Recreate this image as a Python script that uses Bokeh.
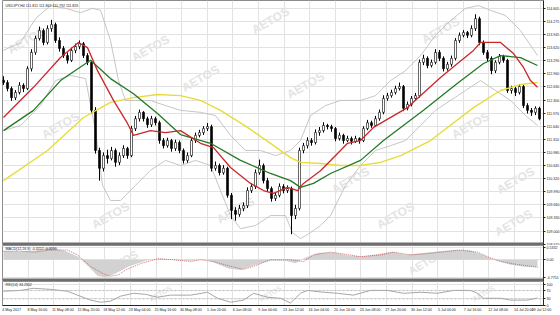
from bokeh.plotting import figure
from bokeh.layouts import column
from bokeh.models import Range1d, FixedTicker, BoxAnnotation, Label, Span, PrintfTickFormatter
from bokeh.embed import file_html
from bokeh.resources import INLINE
from bokeh.core.properties import value

# ---------------- data (USDJPY, H4) ----------------
opens = [112.80, 112.74, 112.59, 112.36, 112.49, 112.67, 112.59, 113.09, 113.50, 113.85,
         114.05, 113.75, 114.10, 114.20, 113.80, 113.60, 113.42, 113.30, 113.55, 113.65,
         113.72, 113.42, 113.25, 112.04, 111.03, 110.58, 110.90, 110.83, 111.03, 110.73,
         110.90, 111.08, 110.90, 111.58, 111.83, 111.99, 111.83, 111.68, 111.83, 111.73,
         111.28, 111.15, 111.28, 111.08, 111.23, 111.03, 110.78, 110.90, 111.28, 111.41,
         111.48, 111.58, 111.63, 110.58, 110.65, 110.47, 110.58, 109.90, 109.52, 109.42,
         109.57, 109.64, 110.02, 110.12, 110.47, 110.65, 110.27, 110.07, 109.82, 109.90,
         110.12, 110.02, 110.07, 109.39, 109.57, 111.03, 111.15, 111.28, 111.23, 111.48,
         111.53, 111.66, 111.63, 111.58, 111.33, 111.41, 111.28, 111.33, 111.26, 111.33,
         111.28, 111.58, 111.73, 111.66, 111.83, 111.99, 112.34, 112.41, 112.49, 112.59,
         112.64, 112.09, 112.19, 112.34, 112.41, 113.25, 113.35, 113.17, 113.25, 113.50,
         113.35, 113.09, 113.20, 113.35, 113.80, 113.93, 114.00, 113.93, 114.10, 114.35,
         113.75, 113.50, 113.35, 113.04, 113.25, 113.40, 113.30, 112.54, 112.59, 112.49,
         112.64, 112.16, 112.04, 111.99, 112.09]
highs = [112.90, 112.80, 112.64, 112.55, 112.75, 112.72, 113.15, 113.58, 113.92, 114.15,
         114.10, 114.18, 114.32, 114.25, 113.88, 113.66, 113.50, 113.62, 113.72, 113.80,
         113.76, 113.48, 113.30, 112.12, 111.10, 110.98, 111.05, 111.12, 111.08, 110.98,
         111.16, 111.12, 111.65, 111.90, 112.06, 112.02, 111.88, 111.90, 111.88, 111.78,
         111.34, 111.35, 111.32, 111.30, 111.28, 111.08, 110.98, 111.34, 111.48, 111.55,
         111.64, 111.72, 111.68, 110.75, 110.70, 110.66, 110.62, 109.96, 109.60, 109.66,
         109.72, 110.10, 110.20, 110.55, 110.80, 110.70, 110.34, 110.12, 109.98, 110.20,
         110.18, 110.15, 110.12, 109.66, 111.10, 111.22, 111.36, 111.34, 111.56, 111.62,
         111.74, 111.70, 111.68, 111.62, 111.48, 111.45, 111.40, 111.38, 111.40, 111.36,
         111.64, 111.80, 111.78, 111.90, 112.06, 112.42, 112.48, 112.56, 112.66, 112.74,
         112.68, 112.26, 112.40, 112.48, 113.32, 113.44, 113.40, 113.32, 113.58, 113.56,
         113.40, 113.26, 113.42, 113.86, 114.00, 114.06, 114.04, 114.18, 114.46, 114.40,
         113.80, 113.56, 113.40, 113.30, 113.46, 113.44, 113.34, 112.66, 112.64, 112.70,
         112.68, 112.22, 112.10, 112.14, 112.13]
lows = [112.68, 112.52, 112.28, 112.30, 112.44, 112.50, 112.55, 113.02, 113.44, 113.80,
        113.68, 113.70, 114.02, 113.74, 113.52, 113.36, 113.22, 113.26, 113.48, 113.58,
        113.36, 113.18, 111.95, 110.95, 110.27, 110.50, 110.70, 110.78, 110.62, 110.66,
        110.84, 110.82, 110.86, 111.52, 111.76, 111.76, 111.60, 111.62, 111.66, 111.20,
        111.08, 111.10, 111.00, 111.02, 110.96, 110.70, 110.72, 110.86, 111.22, 111.36,
        111.42, 111.52, 110.50, 110.52, 110.40, 110.42, 109.84, 109.30, 109.26, 109.36,
        109.50, 109.58, 109.96, 110.06, 110.42, 110.20, 110.00, 109.74, 109.76, 109.85,
        109.95, 109.96, 108.92, 109.30, 109.52, 110.96, 111.08, 111.15, 111.18, 111.40,
        111.48, 111.56, 111.50, 111.26, 111.28, 111.20, 111.24, 111.18, 111.22, 111.20,
        111.24, 111.54, 111.60, 111.62, 111.78, 111.94, 112.28, 112.36, 112.44, 112.54,
        112.02, 112.04, 112.14, 112.28, 112.36, 113.18, 113.10, 113.12, 113.20, 113.28,
        113.02, 113.04, 113.14, 113.30, 113.74, 113.88, 113.86, 113.88, 114.04, 113.68,
        113.44, 113.28, 112.95, 112.98, 113.20, 113.24, 112.48, 112.46, 112.40, 112.44,
        112.10, 111.96, 111.90, 111.92, 111.79]
closes = [112.74, 112.59, 112.36, 112.49, 112.67, 112.59, 113.09, 113.50, 113.85, 114.05,
          113.75, 114.10, 114.20, 113.80, 113.60, 113.42, 113.30, 113.55, 113.65, 113.72,
          113.42, 113.25, 112.04, 111.03, 110.58, 110.90, 110.83, 111.03, 110.73, 110.90,
          111.08, 110.90, 111.58, 111.83, 111.99, 111.83, 111.68, 111.83, 111.73, 111.28,
          111.15, 111.28, 111.08, 111.23, 111.03, 110.78, 110.90, 111.28, 111.41, 111.48,
          111.58, 111.63, 110.58, 110.65, 110.47, 110.58, 109.90, 109.52, 109.42, 109.57,
          109.64, 110.02, 110.12, 110.47, 110.65, 110.27, 110.07, 109.82, 109.90, 110.12,
          110.02, 110.07, 109.39, 109.57, 111.03, 111.15, 111.28, 111.23, 111.48, 111.53,
          111.66, 111.63, 111.58, 111.33, 111.41, 111.28, 111.33, 111.26, 111.33, 111.28,
          111.58, 111.73, 111.66, 111.83, 111.99, 112.34, 112.41, 112.49, 112.59, 112.64,
          112.09, 112.19, 112.34, 112.41, 113.25, 113.35, 113.17, 113.25, 113.50, 113.35,
          113.09, 113.20, 113.35, 113.80, 113.93, 114.00, 113.93, 114.10, 114.35, 113.75,
          113.50, 113.35, 113.04, 113.25, 113.40, 113.30, 112.54, 112.59, 112.49, 112.64,
          112.16, 112.04, 111.99, 112.09, 111.826]
bars = list(range(len(closes)))

# moving averages (bar position, price)
red_x = [0, 7.5, 14.25, 18.75, 21, 23.5, 27.5, 31, 32.5, 36.75, 40.5, 44.25, 49.25, 52.5, 56.75,
         61.75, 65, 67.5, 71, 73.5, 75, 79.25, 84.25, 86, 89.25, 92.5, 101, 109.25, 113.5, 117.5,
         119.25, 124.25, 127.5, 130, 131.75, 133.5]
red_y = [111.86, 112.62, 113.37, 113.75, 113.62, 113.04, 112.29, 111.71, 111.41, 111.53, 111.48,
         111.53, 111.21, 111.10, 110.60, 110.20, 110.02, 109.95, 110.10, 110.02, 110.20, 110.52,
         111.03, 111.21, 111.28, 111.61, 112.11, 112.87, 113.22, 113.55, 113.75, 113.75, 113.47,
         113.12, 112.79, 112.62]
green_x = [0, 7.5, 14.25, 21.75, 26.75, 32.5, 38.5, 44.25, 51.75, 59.25, 66.75, 71.75, 74.25, 77.5,
           81.75, 89.25, 95, 105, 113.5, 120, 124.25, 129.25, 133.5]
green_y = [111.53, 112.04, 112.79, 113.30, 112.84, 112.46, 111.96, 111.43, 111.21, 110.78, 110.45,
           110.27, 110.10, 110.20, 110.45, 110.78, 111.28, 112.04, 112.72, 113.22, 113.42, 113.37,
           113.17]
yellow_x = [0, 11, 20, 26.75, 32.5, 38.5, 44.25, 49.25, 54.25, 61, 66.75, 71.75, 74.25, 79.25,
            84.25, 89.25, 94.25, 99.25, 106.75, 117.5, 124.25, 129.25, 133.5]
yellow_y = [110.27, 111.03, 111.86, 112.24, 112.36, 112.44, 112.41, 112.29, 112.04, 111.61, 111.21,
            110.85, 110.73, 110.70, 110.65, 110.65, 110.73, 110.90, 111.28, 112.11, 112.54, 112.69,
            112.74]
# Bollinger bands
bb_up_x = [0, 4.25, 8, 11.75, 15.5, 19.25, 22.25, 24.25, 26.75, 28.75, 30.5, 33, 36.75, 40.5, 44.25,
           49.25, 53, 56.75, 60.5, 64.25, 68, 71.75, 74.25, 76.75, 80.5, 84.25, 89.25, 93, 96.75,
           100.5, 104.25, 108, 111.75, 115.5, 118.75, 121.75, 125.5, 129.25, 133.5]
bb_up_y = [113.55, 113.75, 114.35, 114.68, 114.61, 114.50, 114.61, 114.56, 113.80, 112.79, 112.29,
           112.29, 112.29, 112.16, 112.04, 111.99, 111.91, 111.41, 111.03, 111.03, 110.90, 111.03,
           111.28, 111.91, 112.16, 112.29, 112.29, 112.41, 112.79, 113.04, 113.42, 113.93, 114.30,
           114.61, 114.68, 114.56, 114.43, 114.05, 113.42]
bb_lo_x = [0, 4.25, 9.25, 13, 16.75, 20.5, 23, 24.75, 26.75, 29.25, 33, 36.75, 40.5, 44.25, 48,
           51.75, 54.25, 56.75, 59.25, 63, 66.75, 70.5, 72.25, 74.25, 76.75, 79.25, 81.75, 85.5,
           89.25, 93, 96.75, 100.5, 104.25, 108, 111.75, 115.5, 119.25, 123, 126.75, 130.5, 133.5]
bb_lo_y = [111.53, 111.66, 112.16, 112.79, 112.92, 112.84, 111.53, 110.15, 109.77, 109.77, 110.15,
           110.53, 110.78, 110.65, 110.78, 110.65, 110.02, 109.39, 109.06, 109.14, 109.39, 109.39,
           108.96, 108.81, 108.96, 109.14, 109.39, 110.15, 110.65, 111.03, 111.15, 111.28, 111.66,
           112.04, 112.29, 112.54, 112.79, 112.54, 112.29, 111.91, 111.66]

# MACD(12,26,9)
macd_x = [0, 4.25, 8, 11.75, 15.5, 18.75, 21.25, 23.5, 25.5, 28, 31.25, 35.5, 39.25, 43, 46.75,
          50.5, 53, 56.25, 59.25, 63, 66.75, 70.5, 73, 75.5, 78.75, 82.5, 86.25, 89.75, 93.75,
          97.25, 100.5, 104.25, 108.5, 113, 116.75, 119.75, 123, 126.75, 130.5, 133.5]
macd_main = [0.38, 0.36, 0.40, 0.5332, 0.38, 0.12, -0.30, -0.70, -0.7751, -0.60, -0.30, -0.05, 0.05,
             -0.02, -0.05, 0.02, -0.15, -0.38, -0.45, -0.22, -0.05, -0.05, -0.15, 0.10, 0.30, 0.32,
             0.18, 0.15, 0.25, 0.35, 0.22, 0.28, 0.36, 0.44, 0.40, 0.22, -0.02, -0.22, -0.31, -0.32]
sig_x = [0, 4.25, 7.5, 11.75, 16, 18.5, 21.75, 25, 26.75, 28.75, 30.5, 34.25, 38.5, 42.5, 46.75,
         49.25, 52.5, 56.75, 60, 62.5, 66.75, 71.75, 75, 77.5, 81.75, 85, 89.25, 94.25, 97.5,
         101.75, 105, 109.25, 114.25, 118.5, 121, 124.25, 128.5, 133.5]
sig_y = [0.37, 0.37, 0.33, 0.42, 0.42, 0.21, -0.29, -0.62, -0.72, -0.66, -0.45, -0.17, 0.04, 0.0,
         -0.08, 0.0, -0.08, -0.29, -0.42, -0.29, 0.0, 0.0, -0.08, 0.21, 0.33, 0.25, 0.13, 0.21,
         0.33, 0.21, 0.25, 0.33, 0.42, 0.33, 0.13, -0.08, -0.21, -0.33]

# RSI(14)
rsi_x = [0, 4.25, 7.5, 11.75, 16, 18.5, 21.75, 24.25, 26.75, 29.25, 32.5, 35.5, 38.5, 41.75, 46.75,
         51, 53.5, 56.75, 60, 62.5, 66, 69.25, 71.75, 74.25, 76, 80, 83.5, 87.5, 91.75, 96, 100,
         104.25, 108.5, 112.5, 116.75, 118.5, 120, 124.25, 126.75, 131, 133.5]
rsi_y = [67, 71, 81, 76, 67, 48, 24, 14, 19, 43, 57, 52, 38, 48, 48, 62, 33, 14, 24, 57, 38, 33, 10,
         57, 71, 62, 57, 48, 71, 71, 57, 62, 57, 71, 71, 57, 33, 33, 24, 24, 34.23]

price_ticks = [114.605, 114.275, 113.945, 113.620, 113.290, 112.960, 112.630, 112.300, 111.970,
               111.640, 111.310, 110.980, 110.645, 110.320, 109.990, 109.660, 109.330, 109.000, 108.670]
macd_ticks = [0.5332, 0.0, -0.7751]
macd_tick_labels = ["0.5332", "0.00", "-0.7751"]
rsi_ticks = [100, 70, 30, 0]
grid_x = [-0.25, 6.15, 12.55, 18.95, 25.35, 31.75, 38.15, 44.55, 50.95, 57.35, 63.75, 70.15, 76.55,
          82.95, 89.35, 95.75, 102.15, 108.55, 114.95, 121.35, 127.75, 134.15]
time_ticks = [2.05, 8.45, 14.85, 21.25, 27.65, 34.05, 40.45, 46.85, 53.25, 59.65, 66.05, 72.45,
              78.85, 85.25, 91.65, 98.05, 104.45, 110.85, 117.25, 123.65, 130.05, 134.5]
time_labels = ["4 May 2017", "8 May 16:00", "11 May 08:00", "15 May 20:00", "18 May 12:00",
               "23 May 04:00", "25 May 16:00", "30 May 08:00", "1 Jun 20:00", "6 Jun 08:00",
               "9 Jun 00:00", "13 Jun 12:00", "16 Jun 04:00", "20 Jun 16:00", "23 Jun 08:00",
               "27 Jun 20:00", "30 Jun 12:00", "5 Jul 04:00", "7 Jul 16:00", "12 Jul 08:00",
               "14 Jul 20:00", "19 Jul 12:00"]

# watermark placement (decoration), kept fully inside each panel
wm_x = [66.75, 109.25, 36.75, 75.5, 49.25, 5.75, 14.25, 116.75, 128.0, 86.75, 26.75, 58.0, 98.0, 127.5]
wm_y = [114.30, 114.05, 113.60, 112.67, 112.84, 113.80, 111.66, 111.66, 110.27, 110.27, 109.39,
        109.52, 109.39, 109.20]
wm_macd_x = [29.25, 105.5]
wm_macd_y = [-0.12, -0.12]
wm_rsi_x = [39.25, 66.75, 120.0]
wm_rsi_y = [56, 56, 56]

FONT = "Liberation Sans"
SMALL = "3.6px"
GRID = "#e2e2e2"
WM = "#e4e4e4"


def style(fig):
    fig.outline_line_color = "#8c8c8c"
    fig.outline_line_width = 1
    fig.xgrid.ticker = FixedTicker(ticks=grid_x)
    fig.xgrid.grid_line_color = GRID
    fig.ygrid.grid_line_color = GRID
    for ax in fig.yaxis:
        ax.major_label_text_font = FONT
        ax.major_label_text_font_size = SMALL
        ax.major_label_text_color = "#222222"
        ax.major_tick_out = 2
        ax.major_tick_in = 0
        ax.minor_tick_out = 0
        ax.minor_tick_in = 0
        ax.major_label_standoff = 1
        ax.axis_line_color = "#222222"
        ax.major_tick_line_color = "#222222"


common = dict(frame_width=541, y_axis_location="right", output_backend="svg",
              toolbar_location=None, min_border=0, min_border_left=2)

# ---------------- main price panel ----------------
xr = Range1d(-0.25, 135.0)
p = figure(frame_height=245, x_range=xr, y_range=Range1d(108.636, 114.807),
           x_axis_location=None, **common)
style(p)
pt = FixedTicker(ticks=price_ticks)
p.yaxis.ticker = pt
p.ygrid.ticker = pt
p.yaxis.formatter = PrintfTickFormatter(format="%.3f")

p.text(x=wm_x, y=wm_y, text=["AETOS"] * len(wm_x), angle=0.52, text_font=value(FONT),
       text_font_size="12px", text_font_style="bold", text_color=WM,
       text_align="center", text_baseline="middle")

p.line(bb_up_x, bb_up_y, line_color="#b8b8b8", line_width=0.8)
p.line(bb_lo_x, bb_lo_y, line_color="#b8b8b8", line_width=0.8)

body_colors = ["white" if c >= o else "black" for o, c in zip(opens, closes)]
p.segment(x0=bars, y0=lows, x1=bars, y1=highs, line_color="black", line_width=1)
p.vbar(x=bars, width=0.5, top=closes, bottom=opens, fill_color=body_colors,
       line_color="black", line_width=0.6)

p.line(yellow_x, yellow_y, line_color="#e8dc3a", line_width=1.4)
p.line(green_x, green_y, line_color="#237a23", line_width=1.3)
p.line(red_x, red_y, line_color="#c8282a", line_width=1.3)

p.add_layout(BoxAnnotation(top=108.711, fill_color="#6e6e6e", fill_alpha=1.0, line_color=None))
p.add_layout(Label(x=0.5, y=114.68, text="USDJPY,H4  111.811 111.862 111.792 111.826",
                   text_font=FONT, text_font_size=SMALL, text_color="#222222",
                   text_baseline="middle"))
p.add_layout(Label(x=135.0, y=111.826, x_offset=0.5, text="111.826", text_font=FONT,
                   text_font_size=SMALL, text_color="white", text_align="left",
                   text_baseline="middle", background_fill_color="black"))

# ---------------- MACD panel ----------------
pm = figure(frame_height=36, x_range=xr, y_range=Range1d(-0.95, 0.62), x_axis_location=None, **common)
style(pm)
mt = FixedTicker(ticks=macd_ticks)
pm.yaxis.ticker = mt
pm.ygrid.ticker = mt
pm.yaxis.major_label_overrides = dict(zip(macd_ticks, macd_tick_labels))
pm.text(x=wm_macd_x, y=wm_macd_y, text=["AETOS"] * len(wm_macd_x), angle=0.52,
        text_font=value(FONT), text_font_size="11px", text_font_style="bold",
        text_color=WM, text_align="center", text_baseline="middle")
pm.varea(x=macd_x, y1=0, y2=macd_main, fill_color="#d2d2d2")
pm.line(sig_x, sig_y, line_color="#c05050", line_width=0.8, line_dash="1 1")
pm.add_layout(BoxAnnotation(top=-0.82, fill_color="#6e6e6e", fill_alpha=1.0, line_color=None))
pm.add_layout(Label(x=0.5, y=0.47, text="MACD(12,26,9) -0.3227 -0.3299", text_font=FONT,
                    text_font_size=SMALL, text_color="#222222", text_baseline="middle"))

# ---------------- RSI panel ----------------
pr = figure(frame_height=24, x_range=xr, y_range=Range1d(-2, 114), min_border_bottom=10, **common)
style(pr)
rt = FixedTicker(ticks=rsi_ticks)
pr.yaxis.ticker = rt
pr.ygrid.ticker = rt
pr.xaxis.ticker = FixedTicker(ticks=time_ticks)
pr.xaxis.major_label_overrides = dict(zip(time_ticks, time_labels))
pr.xaxis.major_label_text_font = FONT
pr.xaxis.major_label_text_font_size = SMALL
pr.xaxis.major_label_text_color = "#222222"
pr.xaxis.major_tick_out = 0
pr.xaxis.major_tick_in = 0
pr.xaxis.minor_tick_out = 0
pr.xaxis.minor_tick_in = 0
pr.xaxis.major_label_standoff = 2
pr.xaxis.axis_line_color = "#222222"
pr.text(x=wm_rsi_x, y=wm_rsi_y, text=["AETOS"] * len(wm_rsi_x), angle=0.52,
        text_font=value(FONT), text_font_size="7px", text_font_style="bold",
        text_color=WM, text_align="center", text_baseline="middle")
for lvl in (70, 30):
    pr.add_layout(Span(location=lvl, dimension="width", line_color="#b4b4b4",
                       line_dash="2 2", line_width=0.7))
pr.line(rsi_x, rsi_y, line_color="#9c9c9c", line_width=0.9)
pr.add_layout(Label(x=0.5, y=99, text="RSI(14) 34.2302", text_font=FONT,
                    text_font_size=SMALL, text_color="#222222", text_baseline="middle"))

layout = column(p, pm, pr, spacing=0)
open("out.html", "w").write(file_html(layout, INLINE))
